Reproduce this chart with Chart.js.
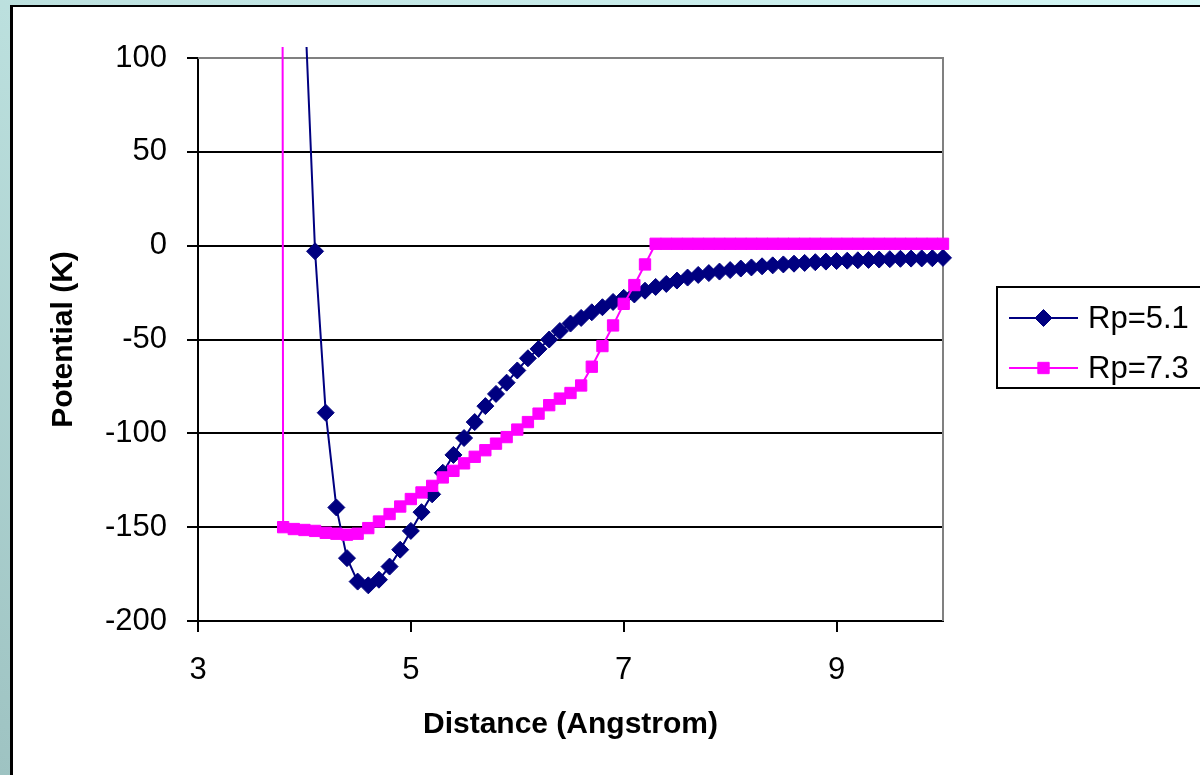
<!DOCTYPE html>
<html>
<head>
<meta charset="utf-8">
<script src="https://cdn.jsdelivr.net/npm/chart.js@4.4.1/dist/chart.umd.min.js"></script>
<style>
  html, body { margin: 0; padding: 0; }
  body {
    width: 1200px; height: 775px; overflow: hidden; position: relative;
    background: linear-gradient(to bottom left, #d4f7f5 0%, #bfe3e1 45%, #9ec3c2 100%);
  }
  #panel {
    position: absolute; left: 10px; top: 5px; width: 1200px; height: 800px;
    background: #fff; border-left: 3px solid #000; border-top: 2px solid #000;
  }
  #chart { position: absolute; left: 0; top: 0; }
</style>
</head>
<body>
<div id="panel"></div>
<canvas id="chart" width="1200" height="775"></canvas>
<script>
// Rp=5.1 series (navy diamonds)
var distance51 = [4.0, 4.1, 4.2, 4.3, 4.4, 4.5, 4.6, 4.7, 4.8, 4.9,
  5.0, 5.1, 5.2, 5.3, 5.4, 5.5, 5.6, 5.7, 5.8, 5.9,
  6.0, 6.1, 6.2, 6.3, 6.4, 6.5, 6.6, 6.7, 6.8, 6.9,
  7.0, 7.1, 7.2, 7.3, 7.4, 7.5, 7.6, 7.7, 7.8, 7.9,
  8.0, 8.1, 8.2, 8.3, 8.4, 8.5, 8.6, 8.7, 8.8, 8.9,
  9.0, 9.1, 9.2, 9.3, 9.4, 9.5, 9.6, 9.7, 9.8, 9.9, 10.0];
var potential51 = [133, -3, -89, -139.5, -166.5, -179, -181, -178, -171, -162,
  -152, -142, -132.5, -121, -111.5, -102.5, -94, -85.5, -79, -73,
  -66.5, -60, -55, -50, -45.5, -41.5, -38.5, -35.5, -32.8, -30,
  -27.8, -26, -24, -22, -20.4, -18.6, -17, -15.6, -14.6, -13.8,
  -13, -12.2, -11.6, -11, -10.5, -10, -9.6, -9.2, -8.8, -8.5,
  -8.2, -8, -7.8, -7.6, -7.4, -7.2, -7, -6.9, -6.8, -6.7, -6.5];

// Rp=7.3 series (magenta squares)
var distance73 = [3.7, 3.8, 3.9, 4.0, 4.1, 4.2, 4.3, 4.4, 4.5, 4.6, 4.7, 4.8, 4.9,
  5.0, 5.1, 5.2, 5.3, 5.4, 5.5, 5.6, 5.7, 5.8, 5.9,
  6.0, 6.1, 6.2, 6.3, 6.4, 6.5, 6.6, 6.7, 6.8, 6.9,
  7.0, 7.1, 7.2, 7.3, 7.4, 7.5, 7.6, 7.7, 7.8, 7.9,
  8.0, 8.1, 8.2, 8.3, 8.4, 8.5, 8.6, 8.7, 8.8, 8.9,
  9.0, 9.1, 9.2, 9.3, 9.4, 9.5, 9.6, 9.7, 9.8, 9.9, 10.0, 10.1];
var potential73 = [5000, -150, -151, -151.5, -152, -153, -153.5, -154, -153.5, -150.5, -147, -143, -139,
  -135, -131.5, -128, -123.5, -120, -116, -112.5, -109, -105.5, -102,
  -98, -94, -89.5, -85, -81.5, -78.5, -74.5, -64.5, -53.5, -42.5,
  -31, -21, -10, 1, 1, 1, 1, 1, 1, 1,
  1, 1, 1, 1, 1, 1, 1, 1, 1, 1,
  1, 1, 1, 1, 1, 1, 1, 1, 1, 1, 1, 1];

var seriesLabels = ['Rp=5.1', 'Rp=7.3'];
var xTickValues = [3, 5, 7, 9];
var yTickValues = [-200, -150, -100, -50, 0, 50, 100];

var toPoints = function(xs, ys) {
  return xs.map(function(x, i) { return {x: x, y: ys[i]}; });
};

Chart.defaults.font.family = "'Liberation Sans', Arial, sans-serif";
Chart.defaults.color = '#000';

// gray plot-area frame on top and right, like the original
var frameLines = {
  id: 'frameLines',
  beforeDatasetsDraw: function(chart) {
    var a = chart.chartArea, ctx = chart.ctx;
    ctx.save();
    ctx.strokeStyle = '#808080';
    ctx.lineWidth = 2;
    ctx.beginPath();
    ctx.moveTo(a.left, a.top);
    ctx.lineTo(a.right, a.top);
    ctx.lineTo(a.right, a.bottom);
    ctx.stroke();
    ctx.restore();
  }
};

var boxLegend = {
  id: 'boxLegend',
  afterDraw: function(chart) {
    var ctx = chart.ctx;
    ctx.save();
    ctx.strokeStyle = '#000';
    ctx.lineWidth = 2;
    ctx.strokeRect(997, 287, 240, 101);
    chart.data.datasets.forEach(function(ds, i) {
      var y = 318 + i * 50;
      ctx.strokeStyle = ds.borderColor;
      ctx.lineWidth = 2;
      ctx.beginPath();
      ctx.moveTo(1009, y);
      ctx.lineTo(1078, y);
      ctx.stroke();
      ctx.fillStyle = ds.pointBackgroundColor;
      ctx.strokeStyle = ds.pointBorderColor;
      ctx.lineWidth = ds.pointBorderWidth;
      Chart.helpers.drawPoint(ctx, {
        pointStyle: ds.pointStyle, rotation: 0,
        radius: ds.pointRadius, borderWidth: ds.pointBorderWidth
      }, 1043.5, y);
      ctx.fillStyle = '#000';
      ctx.font = "31px 'Liberation Sans', Arial, sans-serif";
      ctx.textBaseline = 'middle';
      ctx.textAlign = 'left';
      ctx.fillText(ds.label, 1088, y + 1);
    });
    ctx.restore();
  }
};

var clipBox = {left: 10, top: 11, right: 11, bottom: 10};

new Chart(document.getElementById('chart'), {
  type: 'line',
  data: {
    datasets: [{
      label: seriesLabels[0],
      data: toPoints(distance51, potential51),
      order: 1,
      borderColor: '#000080',
      borderWidth: 2,
      pointStyle: 'rectRot',
      pointRadius: 8.5,
      pointBorderWidth: 1,
      pointBackgroundColor: '#000080',
      pointBorderColor: '#000080',
      tension: 0,
      clip: clipBox
    }, {
      label: seriesLabels[1],
      data: toPoints(distance73, potential73),
      order: 0,
      borderColor: '#ff00ff',
      borderWidth: 2,
      pointStyle: 'rect',
      pointRadius: 8,
      pointBorderWidth: 1,
      pointBackgroundColor: '#ff00ff',
      pointBorderColor: '#ff00ff',
      tension: 0,
      clip: clipBox
    }]
  },
  options: {
    responsive: false,
    animation: false,
    devicePixelRatio: 1,
    events: [],
    layout: { padding: { top: 58, right: 257, left: 0, bottom: 0 } },
    plugins: { legend: { display: false }, tooltip: { enabled: false } },
    scales: {
      x: {
        type: 'linear',
        min: 3,
        max: 10,
        afterBuildTicks: function(scale) {
          scale.ticks = xTickValues.map(function(v) { return {value: v}; });
        },
        afterFit: function(scale) { scale.height = 154; },
        border: { color: '#000', width: 2 },
        grid: { drawOnChartArea: false, drawTicks: true, tickLength: 11, color: '#000', lineWidth: 2 },
        ticks: { padding: 20, font: { size: 31 }, color: '#000', maxRotation: 0 },
        title: {
          display: true,
          text: 'Distance (Angstrom)',
          font: { size: 30, weight: 'bold' },
          color: '#000',
          padding: { top: 0, bottom: 32 }
        }
      },
      y: {
        min: -200,
        max: 100,
        afterBuildTicks: function(scale) {
          scale.ticks = yTickValues.map(function(v) { return {value: v}; });
        },
        afterFit: function(scale) { scale.width = 198; },
        border: { color: '#000', width: 2 },
        grid: {
          tickLength: 11,
          lineWidth: 2,
          tickColor: '#000',
          tickWidth: 2,
          color: function(c) { return c.tick && c.tick.value === 100 ? '#808080' : '#000'; }
        },
        ticks: { padding: 20, font: { size: 31 }, color: '#000' },
        title: {
          display: true,
          text: 'Potential (K)',
          font: { size: 30, weight: 'bold' },
          color: '#000',
          padding: { top: 46, bottom: 0 }
        }
      }
    }
  },
  plugins: [frameLines, boxLegend]
});
</script>
</body>
</html>
